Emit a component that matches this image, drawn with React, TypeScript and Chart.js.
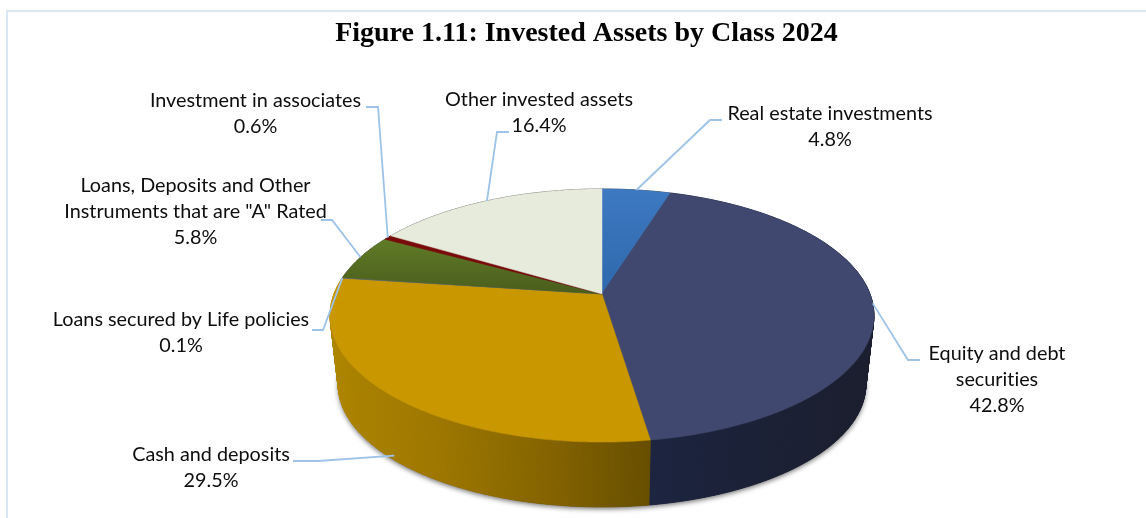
import React, { useEffect, useRef } from "react";
import { Chart, registerables } from "chart.js";

Chart.register(...registerables);

const titleText = "Figure 1.11: Invested Assets by Class 2024";
const categories = [
  "Real estate investments",
  "Equity and debt securities",
  "Cash and deposits",
  "Loans secured by Life policies",
  'Loans, Deposits and Other Instruments that are "A" Rated',
  "Investment in associates",
  "Other invested assets",
];
const values = [4.8, 42.8, 29.5, 0.1, 5.8, 0.6, 16.4];
const wrappedLabels = [
  ["Real estate investments"],
  ["Equity and debt", "securities"],
  ["Cash and deposits"],
  ["Loans secured by Life policies"],
  ["Loans, Deposits and Other", 'Instruments that are "A" Rated'],
  ["Investment in associates"],
  ["Other invested assets"],
];
const topColors = ["#3a75bd", "#40486f", "#c99700", "#5d6b78", "#566f22", "#7a0b0b", "#e6ebdc"];

// Layout, kept apart from the data
const FONT = '19.8px Lato, "Open Sans", sans-serif';
const LINE_HEIGHT = 26;
const LEADER = "#9dc3e8";
// text centre x, first line centre y, elbow points, rim depth fraction of the anchor
const labelLayout = [
  { x: 830, y: 114, elbow: [[722, 120], [710, 120]], depth: 0 },
  { x: 997, y: 354, elbow: [[920, 360], [908, 360]], depth: 0 },
  { x: 211, y: 455, elbow: [[293, 461], [318, 461]], depth: 0.93 },
  { x: 181, y: 320, elbow: [[312, 330], [323, 330]], depth: 0 },
  { x: 195.5, y: 186, elbow: [[321, 220], [332, 220]], depth: 0 },
  { x: 255.5, y: 101, elbow: [[366, 107], [378, 107]], depth: 0 },
  { x: 539, y: 100, elbow: [[509, 132], [497, 132]], depth: 0 },
];
const TOP_RIM = { cx: 602, cy: 294, rx: 268, ry: 122.9 };
const BOTTOM_RIM = { cx: 602, cy: 363.6, rx: 260, ry: 119 };
const PERSPECTIVE = 0.17;

type Rim = { cx: number; cy: number; rx: number; ry: number };
const project = (rim: Rim, a: number): [number, number] => {
  const u = Math.cos(a);
  const v = Math.sin(a);
  const w = 1 / (1 - PERSPECTIVE * v);
  return [rim.cx + rim.rx * u * w, rim.cy + rim.ry * v * w];
};

const traceRim = (ctx: CanvasRenderingContext2D, rim: Rim, a0: number, a1: number, move = false) => {
  const steps = Math.max(2, Math.ceil(Math.abs(a1 - a0) / 0.01));
  for (let i = 0; i <= steps; i++) {
    const [x, y] = project(rim, a0 + ((a1 - a0) * i) / steps);
    if (i === 0 && move) ctx.moveTo(x, y);
    else ctx.lineTo(x, y);
  }
};

const sideGradient = (ctx: CanvasRenderingContext2D, i: number) => {
  if (i === 2) {
    const g = ctx.createLinearGradient(335, 0, 651, 0);
    g.addColorStop(0, "#ae8500");
    g.addColorStop(0.3, "#a07900");
    g.addColorStop(0.7, "#836300");
    g.addColorStop(1, "#674e00");
    return g;
  }
  if (i === 1) {
    const g = ctx.createLinearGradient(651, 0, 872, 0);
    g.addColorStop(0, "#1c2440");
    g.addColorStop(0.5, "#1b2136");
    g.addColorStop(1, "#1a1e2e");
    return g;
  }
  return "#555555";
};

const topFill = (ctx: CanvasRenderingContext2D, i: number) => {
  if (i === 4) {
    const g = ctx.createLinearGradient(0, 238, 0, 294);
    g.addColorStop(0, "#607c27");
    g.addColorStop(1, "#4a5d1c");
    return g;
  }
  if (i === 0) {
    const g = ctx.createLinearGradient(0, 189, 0, 294);
    g.addColorStop(0, "#3d79c2");
    g.addColorStop(1, "#2f68ab");
    return g;
  }
  return topColors[i];
};

const framePlugin = {
  id: "frame",
  beforeDraw(chart: any) {
    const { ctx } = chart;
    ctx.save();
    ctx.fillStyle = "#ffffff";
    ctx.fillRect(0, 0, chart.width, chart.height);
    ctx.strokeStyle = "#d9e6f6";
    ctx.lineWidth = 2;
    ctx.beginPath();
    ctx.moveTo(7, chart.height + 2);
    ctx.lineTo(7, 11);
    ctx.lineTo(chart.width + 2, 11);
    ctx.stroke();
    ctx.restore();
  },
};

const pie3dPlugin = {
  id: "pie3d",
  beforeDatasetsDraw(chart: any) {
    const { ctx } = chart;
    const arcs = chart.getDatasetMeta(0).data;
    ctx.save();

    // side walls, swept as thin quads so the folded rim ends stay filled
    const walls: { i: number; a0: number; a1: number }[] = [];
    arcs.forEach((arc: any, i: number) => {
      const steps = Math.max(1, Math.ceil((arc.endAngle - arc.startAngle) / 0.01));
      const da = (arc.endAngle - arc.startAngle) / steps;
      for (let s = 0; s < steps; s++) {
        walls.push({ i, a0: arc.startAngle + s * da, a1: arc.startAngle + (s + 1) * da });
      }
    });

    // soft shadow under the base
    ctx.save();
    ctx.shadowColor = "rgba(0,0,0,0.55)";
    ctx.shadowBlur = 5;
    ctx.shadowOffsetY = 2;
    ctx.fillStyle = "#333";
    ctx.beginPath();
    traceRim(ctx, BOTTOM_RIM, 0, Math.PI * 2, true);
    ctx.closePath();
    ctx.fill();
    ctx.restore();

    const fills = arcs.map((_: any, i: number) => sideGradient(ctx, i));
    walls.forEach(({ i, a0, a1 }) => {
      const p0 = project(TOP_RIM, a0);
      const p1 = project(TOP_RIM, a1);
      const p2 = project(BOTTOM_RIM, a1);
      const p3 = project(BOTTOM_RIM, a0);
      ctx.beginPath();
      ctx.moveTo(p0[0], p0[1]);
      ctx.lineTo(p1[0], p1[1]);
      ctx.lineTo(p2[0], p2[1]);
      ctx.lineTo(p3[0], p3[1]);
      ctx.closePath();
      ctx.fillStyle = fills[i];
      ctx.strokeStyle = fills[i];
      ctx.lineWidth = 0.8;
      ctx.fill();
      ctx.stroke();
    });

    // top faces
    arcs.forEach((arc: any, i: number) => {
      ctx.beginPath();
      ctx.moveTo(TOP_RIM.cx, TOP_RIM.cy);
      traceRim(ctx, TOP_RIM, arc.startAngle, arc.endAngle);
      ctx.closePath();
      const fill = topFill(ctx, i);
      ctx.fillStyle = fill;
      ctx.strokeStyle = fill;
      ctx.lineWidth = 0.5;
      ctx.fill();
      ctx.stroke();
    });

    // leader lines
    ctx.strokeStyle = LEADER;
    ctx.lineWidth = 1.8;
    ctx.lineJoin = "miter";
    arcs.forEach((arc: any, i: number) => {
      const layout = labelLayout[i];
      const mid = (arc.startAngle + arc.endAngle) / 2;
      const [tx, ty] = project(TOP_RIM, mid);
      const [bx, by] = project(BOTTOM_RIM, mid);
      const ax = tx + (bx - tx) * layout.depth;
      const ay = ty + (by - ty) * layout.depth;
      ctx.beginPath();
      ctx.moveTo(layout.elbow[0][0], layout.elbow[0][1]);
      ctx.lineTo(layout.elbow[1][0], layout.elbow[1][1]);
      ctx.lineTo(ax, ay);
      ctx.stroke();
    });

    // labels
    ctx.fillStyle = "#0d0d0d";
    ctx.font = FONT;
    (ctx as any).letterSpacing = "0.01px";
    ctx.textAlign = "center";
    ctx.textBaseline = "middle";
    arcs.forEach((_: any, i: number) => {
      const layout = labelLayout[i];
      const lines = [...wrappedLabels[i], values[i].toFixed(1) + "%"];
      lines.forEach((t, j) => ctx.fillText(t, layout.x, layout.y + j * LINE_HEIGHT));
    });

    ctx.restore();
    return false;
  },
};

export default function App() {
  const ref = useRef<HTMLCanvasElement>(null);
  useEffect(() => {
    document.body.style.margin = "0";
    const chart = new Chart(ref.current as HTMLCanvasElement, {
      type: "pie",
      data: {
        labels: categories,
        datasets: [{ data: values, backgroundColor: topColors, borderWidth: 0 }],
      },
      options: {
        animation: false,
        responsive: false,
        layout: { padding: { left: 27, top: 0 } },
        plugins: {
          legend: { display: false },
          tooltip: { enabled: false },
          title: {
            display: true,
            text: titleText,
            color: "#000000",
            font: { family: '"Liberation Serif", serif', size: 28, weight: "bold" },
            padding: { top: 17, bottom: 10 },
          },
        },
      },
      plugins: [framePlugin, pie3dPlugin],
    } as any);
    return () => chart.destroy();
  }, []);
  return <canvas ref={ref} width={1146} height={518} style={{ display: "block", width: 1146, height: 518 }} />;
}
